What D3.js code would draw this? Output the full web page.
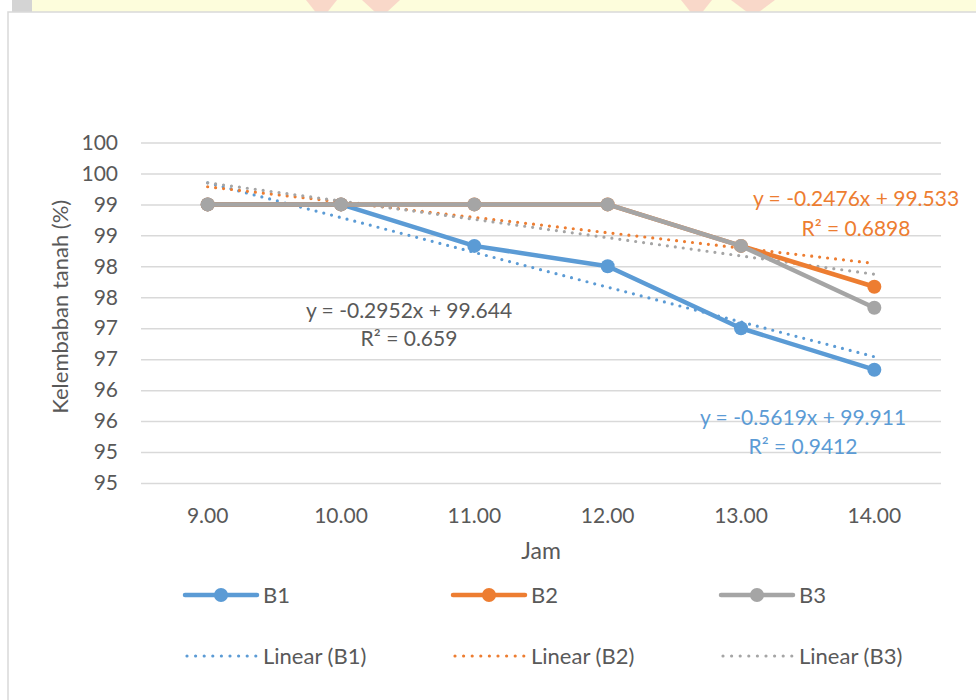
<!DOCTYPE html>
<html>
<head>
<meta charset="utf-8">
<script src="https://cdn.jsdelivr.net/npm/d3@7"></script>
<style>
  html, body { margin: 0; padding: 0; background: #ffffff; }
  svg { display: block; font-family: Lato, "Open Sans", sans-serif; }
</style>
</head>
<body>
<svg id="chart" width="976" height="700"></svg>
<script>
// Soil moisture (%) measured each hour for three beds
const hours = ["9.00", "10.00", "11.00", "12.00", "13.00", "14.00"];
const seriesNames = ["B1", "B2", "B3"];
const seriesColors = ["#5b9bd5", "#ed7d31", "#a5a5a5"];
const b1 = [99, 99, 98.33, 98, 97, 96.33];
const b2 = [99, 99, 99, 99, 98.33, 97.67];
const b3 = [99, 99, 99, 99, 98.33, 97.33];
// Linear trend coefficients (x = 1..6) and fit quality
const trendSlope = [-0.5619, -0.2476, -0.2952];
const trendIntercept = [99.911, 99.533, 99.644];
const trendR2 = ["0.9412", "0.6898", "0.659"];
// Value axis ticks (labels shown without decimals)
const yTicks = [94.5, 95, 95.5, 96, 96.5, 97, 97.5, 98, 98.5, 99, 99.5, 100];

const seriesValues = [b1, b2, b3];
const svg = d3.select("#chart");
const textColor = "#595959";
const tickSize = 21;
const eqSize = 21;
const labelSize = 22;

// faint strip of the page background above the chart frame
const strip = svg.append("g");
strip.append("rect").attr("x", 30).attr("y", 0).attr("width", 946).attr("height", 12).attr("fill", "#fdfddc");
strip.append("rect").attr("x", 12).attr("y", 0).attr("width", 20).attr("height", 12).attr("fill", "#d4d4d4");
[[306, 337], [362, 400], [681, 712], [731, 775]].forEach(([a, b]) => {
  strip.append("path")
    .attr("d", `M${a},0 L${b},0 L${(a + b) / 2 + 6},12 L${(a + b) / 2 - 6},12 Z`)
    .attr("fill", "#f6b9b9").attr("opacity", 0.55);
});

// chart frame
svg.append("rect")
  .attr("x", 8).attr("y", 12).attr("width", 980).attr("height", 700)
  .attr("fill", "#ffffff").attr("stroke", "#d9d9d9").attr("stroke-width", 1.5);

const plot = { left: 141, right: 941, top: 142.5, bottom: 483 };

const x = d3.scaleBand().domain(hours).range([plot.left, plot.right]).padding(0);
const xc = h => x(h) + x.bandwidth() / 2;
const y = d3.scaleLinear().domain([94.5, 100]).range([plot.bottom, plot.top]);

// gridlines + value labels
const yAxis = d3.axisLeft(y)
  .tickValues(yTicks)
  .tickSize(-(plot.right - plot.left))
  .tickPadding(23)
  .tickFormat(d => d3.format(".0f")(Math.round(d)));
const gy = svg.append("g").attr("transform", `translate(${plot.left},0)`).call(yAxis);
gy.select(".domain").remove();
gy.selectAll(".tick line").attr("stroke", "#d9d9d9").attr("stroke-width", 1.5);
gy.selectAll(".tick text").attr("fill", textColor).attr("font-size", tickSize)
  .attr("font-family", "Lato, 'Open Sans', sans-serif");

// category labels
const xAxis = d3.axisBottom(x).tickSize(0).tickPadding(25);
const gx = svg.append("g").attr("transform", `translate(0,${plot.bottom})`).call(xAxis);
gx.select(".domain").remove();
gx.selectAll(".tick text").attr("fill", textColor).attr("font-size", tickSize)
  .attr("font-family", "Lato, 'Open Sans', sans-serif");

// axis titles
svg.append("text")
  .attr("transform", `translate(68,${(plot.top + plot.bottom) / 2 - 6}) rotate(-90)`)
  .attr("text-anchor", "middle").attr("fill", textColor).attr("font-size", labelSize)
  .text("Kelembaban tanah (%)");
svg.append("text")
  .attr("x", (plot.left + plot.right) / 2).attr("y", 559)
  .attr("text-anchor", "middle").attr("fill", textColor).attr("font-size", labelSize + 1)
  .text("Jam");

// trend lines (dotted)
const dotted = { width: 3.2, dash: "0 8" };
trendSlope.forEach((m, i) => {
  const pts = hours.map((h, k) => [xc(h), y(trendIntercept[i] + m * (k + 1))]);
  svg.append("path")
    .attr("d", d3.line()([pts[0], pts[pts.length - 1]]))
    .attr("fill", "none").attr("stroke", seriesColors[i])
    .attr("stroke-width", dotted.width).attr("stroke-linecap", "round")
    .attr("stroke-dasharray", dotted.dash);
});

// data series, drawn B1, B2, B3 so B3 sits on top
const line = d3.line().x(d => xc(d.h)).y(d => y(d.v));
seriesValues.forEach((vals, i) => {
  const pts = vals.map((v, k) => ({ h: hours[k], v }));
  svg.append("path").datum(pts)
    .attr("d", line).attr("fill", "none")
    .attr("stroke", seriesColors[i]).attr("stroke-width", 4.5)
    .attr("stroke-linejoin", "round").attr("stroke-linecap", "round");
  svg.append("g").selectAll("circle").data(pts).join("circle")
    .attr("cx", d => xc(d.h)).attr("cy", d => y(d.v)).attr("r", 7)
    .attr("fill", seriesColors[i]);
});

// trend equation labels
const eqPos = [
  { cx: 803, y1: 425, y2: 454 },
  { cx: 856, y1: 206, y2: 236 },
  { cx: 409, y1: 318, y2: 346 }
];
trendSlope.forEach((m, i) => {
  const col = i === 2 ? textColor : seriesColors[i];
  const g = svg.append("g").attr("fill", col).attr("font-size", eqSize).attr("text-anchor", "middle");
  g.append("text").attr("x", eqPos[i].cx).attr("y", eqPos[i].y1)
    .text(`y = ${m}x + ${trendIntercept[i]}`);
  g.append("text").attr("x", eqPos[i].cx).attr("y", eqPos[i].y2)
    .text(`R² = ${trendR2[i]}`);
});

// legend
const legendX = [185, 453, 721];
const legend = svg.append("g");
seriesNames.forEach((name, i) => {
  const lx = legendX[i];
  legend.append("line").attr("x1", lx).attr("x2", lx + 72).attr("y1", 595).attr("y2", 595)
    .attr("stroke", seriesColors[i]).attr("stroke-width", 4.5).attr("stroke-linecap", "round");
  legend.append("circle").attr("cx", lx + 36).attr("cy", 595).attr("r", 7).attr("fill", seriesColors[i]);
  legend.append("text").attr("x", lx + 78).attr("y", 603).attr("fill", textColor)
    .attr("font-size", labelSize).text(name);

  legend.append("line").attr("x1", lx + 2).attr("x2", lx + 72).attr("y1", 656).attr("y2", 656)
    .attr("stroke", seriesColors[i]).attr("stroke-width", dotted.width)
    .attr("stroke-linecap", "round").attr("stroke-dasharray", "0 8.6");
  legend.append("text").attr("x", lx + 78).attr("y", 664).attr("fill", textColor)
    .attr("font-size", labelSize).text(`Linear (${name})`);
});
</script>
</body>
</html>
